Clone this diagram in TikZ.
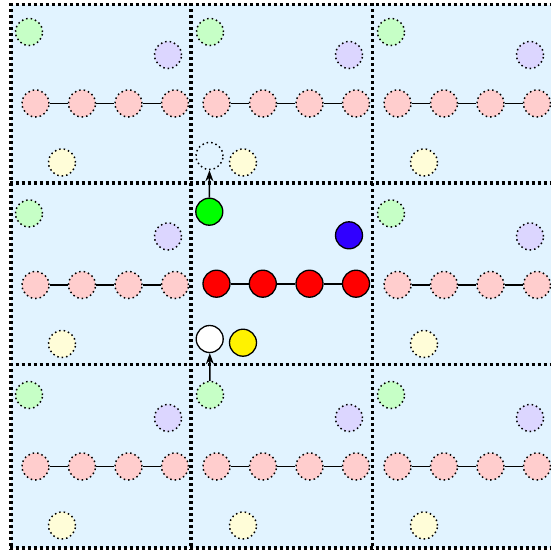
\documentclass[tikz,border=0pt]{standalone}
\usetikzlibrary{arrows.meta}
\definecolor{CellBack}{HTML}{E1F3FF}
\definecolor{PaleGreen}{HTML}{C6FFC6}
\definecolor{PalePurple}{HTML}{DCD6FF}
\definecolor{PaleRed}{HTML}{FFCDCD}
\definecolor{PaleYellow}{HTML}{FFFDD8}
\definecolor{AtomBlue}{HTML}{3000FF}
\tikzset{cell/.style={line width=3.4pt,dash pattern=on 3.4pt off 2.6pt},
 atom/.style={circle,draw,line width=1.3pt,minimum size=27pt,inner sep=0pt},
 ghost/.style={atom,line width=1.5pt,dash pattern=on 1.5pt off 3pt},
 bond/.style={line width=1.7pt},
 move/.style={line width=1.4pt,-{Stealth[length=11pt,width=8pt]}}}

\begin{document}
\begin{tikzpicture}[x=1pt,y=-1pt]
\useasboundingbox (0,0) rectangle (551,552);
\clip (0,0) rectangle (551,552);
% cells
\fill[CellBack] (11,4.5) rectangle (553.5,548);
\foreach \x in {11,191,372.5,553.5}
 {\draw[cell] (\x,3) -- (\x,549.5);}
\foreach \y in {4.5,183,364.5,548}
 {\draw[cell] (9.5,\y) -- (555,\y);}
% periodic images
\foreach \r/\c in {0/0,0/1,0/2,1/0,1/2,2/0,2/1,2/2}
 {\begin{scope}[shift={(11+181*\c,4.5+181.5*\r)}]
  \node[ghost,fill=PaleGreen] (g\r\c) at (18,27.5) {};
  \node[ghost,fill=PalePurple] (b\r\c) at (157,50.5) {};
  \node[ghost,fill=PaleYellow] (y\r\c) at (51,158) {};
  \foreach \k/\x in {1/24.5,2/71,3/117.5,4/164}
   {\node[ghost,fill=PaleRed] (a\r\c\k) at (\x,99) {};}
  \draw[bond] (a\r\c1) -- (a\r\c2) -- (a\r\c3) -- (a\r\c4);
 \end{scope}}
\node[ghost] (w01) at (209.5,156) {};
% central cell
\node[atom,fill=green] (g11) at (209.3,211.7) {};
\node[atom,fill=AtomBlue] (b11) at (349,235.3) {};
\node[atom,fill=white] (w11) at (209.7,339) {};
\node[atom,fill=yellow] (y11) at (243,342.7) {};
\foreach \k/\x in {1/216.5,2/262.8,3/309.5,4/356}
 {\node[atom,fill=red] (a11\k) at (\x,283.7) {};}
\draw[bond] (a111) -- (a112) -- (a113) -- (a114);
\draw[move] (g11) -- (w01);
\draw[move] (g21) -- (w11);
\end{tikzpicture}
\end{document}
